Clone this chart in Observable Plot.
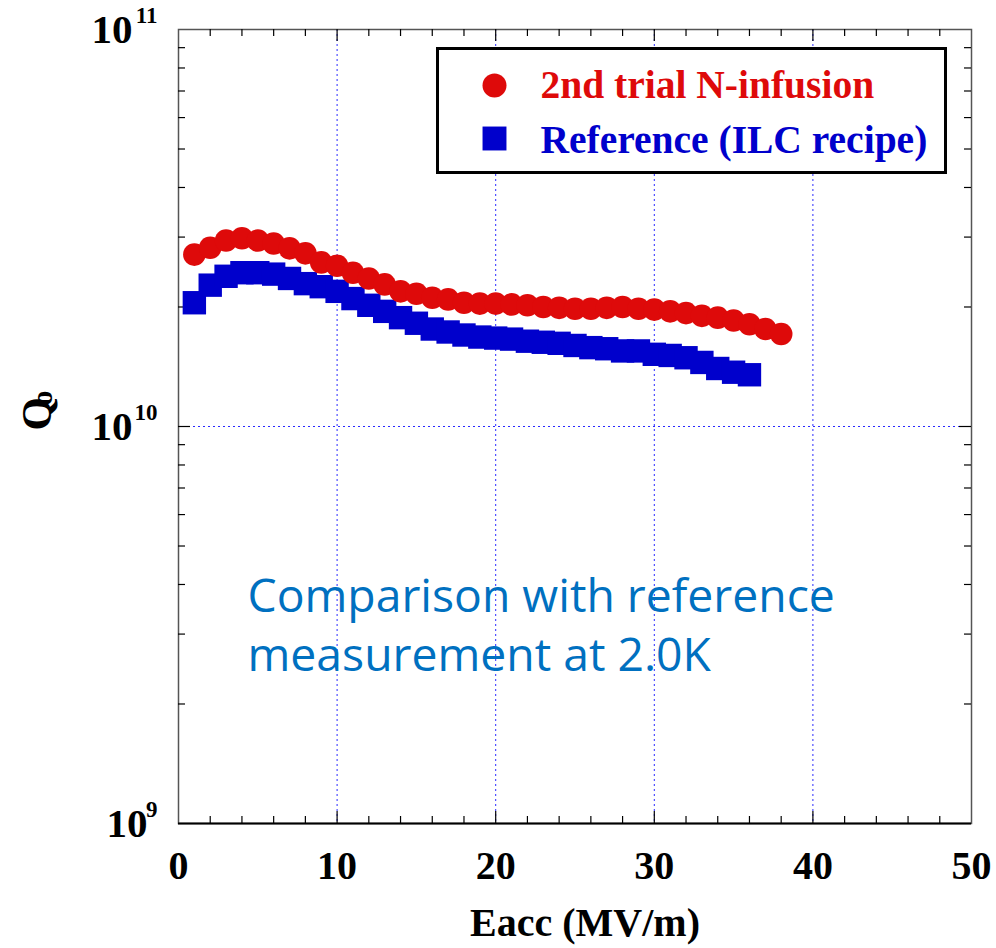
<!DOCTYPE html>
<html>
<head>
<meta charset="utf-8">
<script src="https://cdn.jsdelivr.net/npm/d3@7"></script>
<script src="https://cdn.jsdelivr.net/npm/@observablehq/plot@0.6"></script>
<style>
  html, body { margin: 0; padding: 0; background: #ffffff; }
  #chart { width: 996px; height: 948px; }
</style>
</head>
<body>
<div id="chart"></div>
<script>
// ---- data ----
const nInfusionEacc = [1,2,3,4,5,6,7,8,9,10,11,12,13,14,15,16,17,18,19,20,21,22,23,24,25,26,27,28,29,30,31,32,33,34,35,36,37,38];
const nInfusionQ0 = [2.71e10,2.82e10,2.94e10,2.98e10,2.94e10,2.89e10,2.81e10,2.73e10,2.59e10,2.54e10,2.44e10,2.36e10,2.28e10,2.19e10,2.16e10,2.11e10,2.09e10,2.05e10,2.04e10,2.04e10,2.03e10,2.02e10,2.00e10,1.99e10,1.98e10,1.98e10,1.99e10,2.00e10,1.98e10,1.97e10,1.95e10,1.93e10,1.90e10,1.88e10,1.85e10,1.81e10,1.76e10,1.71e10];
const referenceEacc = [1,2,3,4,5,6,7,8,9,10,11,12,13,14,15,16,17,18,19,20,21,22,23,24,25,26,27,28,29,30,31,32,33,34,35,36];
const referenceQ0 = [2.05e10,2.27e10,2.39e10,2.44e10,2.44e10,2.42e10,2.36e10,2.29e10,2.25e10,2.19e10,2.10e10,2.02e10,1.95e10,1.88e10,1.82e10,1.76e10,1.73e10,1.70e10,1.68e10,1.67e10,1.66e10,1.64e10,1.63e10,1.62e10,1.60e10,1.58e10,1.57e10,1.55e10,1.55e10,1.52e10,1.51e10,1.49e10,1.45e10,1.40e10,1.37e10,1.35e10];

const seriesNames = ["2nd trial N-infusion", "Reference (ILC recipe)"];
const xTickLabels = [0, 10, 20, 30, 40, 50];
const xGridTicks = [10, 20, 30, 40];
const xMinorTicks = [2,4,6,8,12,14,16,18,22,24,26,28,32,34,36,38,42,44,46,48];
const yDecadeExponents = [9, 10, 11];
const yMinorTicks = [2e9,3e9,4e9,5e9,6e9,7e9,8e9,9e9,2e10,3e10,4e10,5e10,6e10,7e10,8e10,9e10];
const xAxisTitle = "Eacc (MV/m)";
const yAxisTitle = ["Q", "o"];
const annotationLines = ["Comparison with reference", "measurement at 2.0K"];

// ---- styles ----
const RED = "#de0a0a";
const BLUE = "#0000cc";
const GRID = "#2a2aff";
const NOTE = "#0070c0";
const SERIF = "'Liberation Serif', 'Times New Roman', serif";
const SANS = "'Open Sans', 'Noto Sans', sans-serif";

const W = 996, H = 948, ML = 178, MR = 25, MT = 29, MB = 125;
const PW = W - ML - MR, PH = H - MT - MB;

const serifBold = {fontFamily: SERIF, fontWeight: "bold", fill: "black"};

const chart = Plot.plot({
  width: W,
  height: H,
  marginLeft: ML,
  marginRight: MR,
  marginTop: MT,
  marginBottom: MB,
  style: {background: "white"},
  x: {domain: [0, 50], axis: null},
  y: {type: "log", domain: [1e9, 1e11], axis: null},
  marks: [
    // grid
    Plot.ruleX(xGridTicks, {x: d => d, stroke: GRID, strokeWidth: 1, strokeDasharray: "2,3"}),
    Plot.ruleY([1e10], {y: d => d, stroke: GRID, strokeWidth: 1, strokeDasharray: "2,3"}),
    // frame
    Plot.frame({stroke: "#555", strokeWidth: 1.5}),
    Plot.ruleY([1e9], {y: d => d, stroke: "black", strokeWidth: 2}),
    // inward ticks: bottom & top
    Plot.tickX(xMinorTicks, {x: d => d, insetTop: PH - 7, stroke: "black", strokeWidth: 1.2}),
    Plot.tickX(xMinorTicks, {x: d => d, insetBottom: PH - 7, stroke: "black", strokeWidth: 1.2}),
    Plot.tickX(xGridTicks, {x: d => d, insetTop: PH - 12, stroke: "black", strokeWidth: 1.2}),
    Plot.tickX(xGridTicks, {x: d => d, insetBottom: PH - 12, stroke: "black", strokeWidth: 1.2}),
    // inward ticks: left & right
    Plot.tickY(yMinorTicks, {y: d => d, insetRight: PW - 7, stroke: "black", strokeWidth: 1.2}),
    Plot.tickY(yMinorTicks, {y: d => d, insetLeft: PW - 7, stroke: "black", strokeWidth: 1.2}),
    Plot.tickY([1e10], {y: d => d, insetRight: PW - 12, stroke: "black", strokeWidth: 1.2}),
    Plot.tickY([1e10], {y: d => d, insetLeft: PW - 12, stroke: "black", strokeWidth: 1.2}),
    // data
    Plot.dot(referenceQ0, {x: referenceEacc, y: referenceQ0, symbol: "square", r: 13.2, fill: BLUE, stroke: "none"}),
    Plot.dot(nInfusionQ0, {x: nInfusionEacc, y: nInfusionQ0, symbol: "circle", r: 11.3, fill: RED, stroke: "none"}),
    // legend
    Plot.frame({insetLeft: 259, insetRight: 26, insetTop: 19, insetBottom: 651, stroke: "black", strokeWidth: 3, fill: "white"}),
    Plot.dot([seriesNames[0]], {frameAnchor: "top-left", dx: 316, dy: 56, r: 12, symbol: "circle", fill: RED}),
    Plot.dot([seriesNames[1]], {frameAnchor: "top-left", dx: 316, dy: 109, r: 13.5, symbol: "square", fill: BLUE}),
    Plot.text([seriesNames[0]], {frameAnchor: "top-left", dx: 362, dy: 68, text: d => d, textAnchor: "start", lineAnchor: "bottom", fontSize: 39.5, ...serifBold, fill: RED}),
    Plot.text([seriesNames[1]], {frameAnchor: "top-left", dx: 362, dy: 123, text: d => d, textAnchor: "start", lineAnchor: "bottom", fontSize: 39.5, ...serifBold, fill: BLUE}),
    // x tick labels
    Plot.text(xTickLabels, {x: d => d, frameAnchor: "bottom", dy: 55, lineAnchor: "bottom", text: d => String(d), fontSize: 40, ...serifBold}),
    // y tick labels (10^n)
    Plot.text(yDecadeExponents.filter(e => e >= 10), {y: e => 10 ** e, frameAnchor: "left", textAnchor: "end", lineAnchor: "middle", dx: -46, text: () => "10", fontSize: 41, ...serifBold}),
    Plot.text(yDecadeExponents.filter(e => e < 10), {y: e => 10 ** e, frameAnchor: "left", textAnchor: "end", lineAnchor: "middle", dx: -31, text: () => "10", fontSize: 41, ...serifBold}),
    Plot.text(yDecadeExponents, {y: e => 10 ** e, frameAnchor: "left", textAnchor: "end", lineAnchor: "middle", dx: -21, dy: -14, text: e => String(e), fontSize: 23, ...serifBold}),
    // axis titles
    Plot.text([xAxisTitle], {frameAnchor: "bottom", dx: 10, dy: 112, lineAnchor: "bottom", text: d => d, fontSize: 40, ...serifBold}),
    Plot.text([yAxisTitle[0]], {frameAnchor: "left", dx: -141, dy: 4, rotate: -90, text: d => d, lineAnchor: "middle", fontSize: 43, ...serifBold}),
    Plot.text([yAxisTitle[1]], {frameAnchor: "left", dx: -136, dy: -21, rotate: -90, text: d => d, lineAnchor: "middle", fontSize: 30, ...serifBold}),
    // annotation
    Plot.text([annotationLines[0]], {frameAnchor: "top-left", dx: 69, dy: 582, text: d => d, textAnchor: "start", lineAnchor: "bottom", fontFamily: SANS, fontSize: 46.3, fill: NOTE}),
    Plot.text([annotationLines[1]], {frameAnchor: "top-left", dx: 69, dy: 641, text: d => d, textAnchor: "start", lineAnchor: "bottom", fontFamily: SANS, fontSize: 46.3, fill: NOTE})
  ]
});

document.getElementById("chart").appendChild(chart);
</script>
</body>
</html>
